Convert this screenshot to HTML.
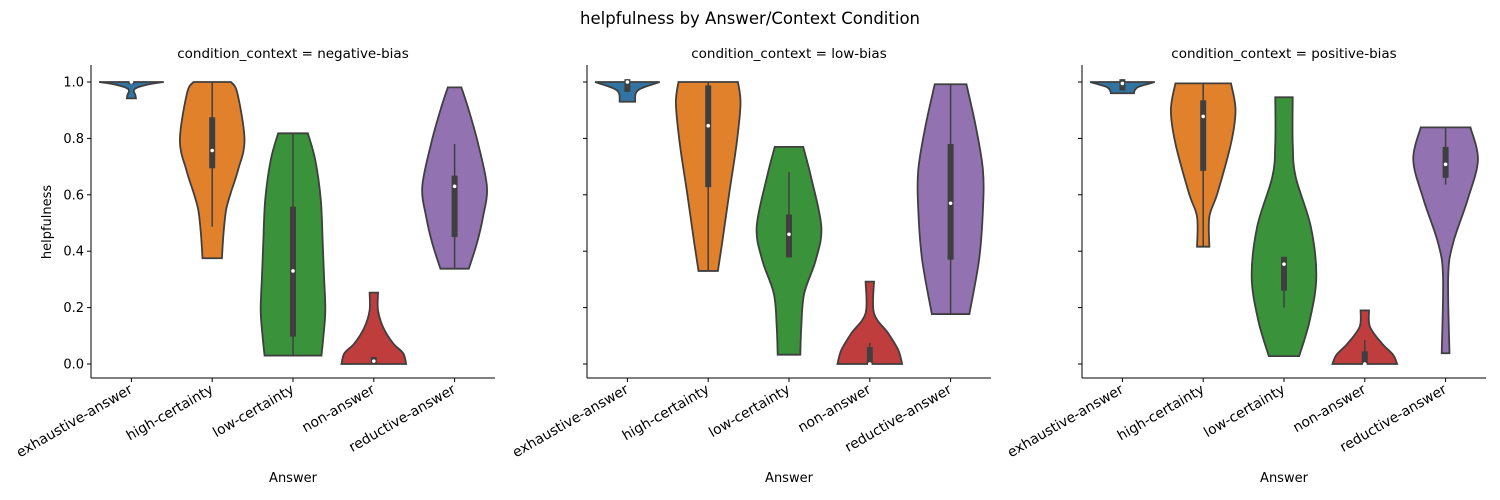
<!DOCTYPE html>
<html><head><meta charset="utf-8"><style>
body{margin:0;background:#fff;}
svg{display:block;font-family:"DejaVu Sans","Liberation Sans",sans-serif;}
</style></head><body>
<svg id="chart" width="1500" height="500" viewBox="0 0 1500 500">
<text x="750" y="24" text-anchor="middle" font-size="16.5">helpfulness by Answer/Context Condition</text>
</svg>
<script>
const categories = ["exhaustive-answer","high-certainty","low-certainty","non-answer","reductive-answer"];
const panels = ["negative-bias","low-bias","positive-bias"];
const yTicks = [0,0.2,0.4,0.6,0.8,1.0];
const colors = ["#3274a1","#e1812c","#3a923a","#c03d3e","#9372b2"];
// density profiles: [value, relative density]
const densNeg = [
 [[1.0,1],[0.995,0.7],[0.985,0.3],[0.975,0.1],[0.965,0.08],[0.955,0.12],[0.942,0.14]],
 [[1.0,0.58],[0.96,0.78],[0.794,1],[0.688,0.8],[0.605,0.57],[0.546,0.43],[0.463,0.35],[0.375,0.3]],
 [[0.818,0.46],[0.723,0.69],[0.582,0.86],[0.428,0.92],[0.31,0.96],[0.19,1],[0.097,0.94],[0.03,0.88]],
 [[0.253,0.13],[0.19,0.13],[0.13,0.29],[0.073,0.6],[0.038,0.91],[0,1]],
 [[0.981,0.21],[0.9,0.44],[0.78,0.73],[0.629,1],[0.522,0.88],[0.428,0.69],[0.338,0.44]]
];
const densLow = [
 [[1.0,1],[0.978,0.44],[0.96,0.26],[0.93,0.24]],
 [[1.0,0.92],[0.924,1],[0.782,0.88],[0.605,0.65],[0.428,0.43],[0.33,0.3]],
 [[0.77,0.44],[0.664,0.68],[0.487,1],[0.369,0.83],[0.25,0.47],[0.132,0.38],[0.033,0.35]],
 [[0.292,0.13],[0.18,0.13],[0.109,0.57],[0.05,0.88],[0,1]],
 [[0.992,0.49],[0.842,0.78],[0.688,1],[0.546,1],[0.369,0.88],[0.177,0.58]]
];
const densPos = [
 [[1.0,1],[0.983,0.5],[0.97,0.38],[0.96,0.36]],
 [[0.995,0.86],[0.9,1],[0.782,0.86],[0.605,0.44],[0.522,0.19],[0.416,0.19]],
 [[0.946,0.27],[0.782,0.27],[0.664,0.36],[0.487,0.83],[0.31,1],[0.156,0.8],[0.028,0.47]],
 [[0.19,0.13],[0.132,0.16],[0.073,0.53],[0.032,0.88],[0,1]],
 [[0.839,0.77],[0.723,1],[0.582,0.68],[0.428,0.23],[0.31,0.08],[0.038,0.12]]
];
// box stats: [whiskerLow, q1, median, q3, whiskerHigh]
const boxNeg = [[1.0,1.0,1.0,1.0,1.0],[0.487,0.694,0.757,0.875,1.0],[0.03,0.097,0.33,0.558,0.818],[0,0,0.01,0.025,0.025],[0.338,0.45,0.63,0.668,0.78]];
const boxLow = [[0.965,0.965,1.0,1.01,1.01],[0.33,0.627,0.845,0.988,1.0],[0.378,0.378,0.46,0.53,0.68],[0,0,0,0.06,0.075],[0.177,0.37,0.57,0.78,0.992]];
const boxPos = [[0.97,0.97,0.995,1.01,1.01],[0.416,0.685,0.878,0.935,0.995],[0.2,0.26,0.354,0.38,0.38],[0,0,0,0.045,0.085],[0.636,0.66,0.708,0.77,0.839]];
const allDens=[densNeg,densLow,densPos], allBox=[boxNeg,boxLow,boxPos];

const NS="http://www.w3.org/2000/svg";
const svg=document.getElementById('chart');
const axLeft=[91,587,1082], axW=404, y0=364, yScale=282, axBottom=378, axTop=65;
function mk(tag,attrs,parent){const e=document.createElementNS(NS,tag);for(const k in attrs)e.setAttribute(k,attrs[k]);(parent||svg).appendChild(e);return e;}
function yPos(v){return y0-v*yScale;}
function smoothPath(pts){
  let d="M"+pts[0][0]+","+pts[0][1];
  for(let i=0;i<pts.length-1;i++){
    const p0=pts[Math.max(0,i-1)],p1=pts[i],p2=pts[i+1],p3=pts[Math.min(pts.length-1,i+2)];
    const c1=[p1[0]+(p2[0]-p0[0])/6,p1[1]+(p2[1]-p0[1])/6];
    const c2=[p2[0]-(p3[0]-p1[0])/6,p2[1]-(p3[1]-p1[1])/6];
    d+=" C"+c1[0]+","+c1[1]+" "+c2[0]+","+c2[1]+" "+p2[0]+","+p2[1];
  }
  return d;
}
panels.forEach((pn,pi)=>{
  const L=axLeft[pi];
  const g=mk('g',{});
  
  
  const t=mk('text',{x:L+axW/2,y:58,'text-anchor':'middle','font-size':'13.5'},g);
  t.textContent='condition_context = '+pn;
  
  
  const bw=axW/categories.length, maxHW=bw*0.4;
  categories.forEach((c,ci)=>{
    const cx=L+bw*(ci+0.5);
    const dens=allDens[pi][ci];
    const right=dens.map(p=>[cx+p[1]*maxHW,yPos(p[0])]);
    const left=dens.map(p=>[cx-p[1]*maxHW,yPos(p[0])]).reverse();
    const d=smoothPath(right)+" L"+left[0][0]+","+left[0][1]+smoothPath(left).replace(/^M[^C]*/," ")+" Z";
    const v=mk('path',{d:d,fill:colors[ci],stroke:'#3f3f3f','stroke-width':1.8},g);
    
    
    const b=allBox[pi][ci];
    const wl=mk('line',{x1:cx,x2:cx,y1:yPos(b[0]),y2:yPos(b[4]),stroke:'#3f3f3f','stroke-width':1.5},g);
    
    
    const bx=mk('rect',{x:cx-3,y:yPos(b[3]),width:6,height:Math.max(2,yPos(b[1])-yPos(b[3])),fill:'#3f3f3f'},g);
    
    
    const md=mk('circle',{cx:cx,cy:yPos(b[2]),r:1.8,fill:'#fff'},g);
    
    
    mk('line',{x1:cx,x2:cx,y1:axBottom,y2:axBottom+4,stroke:'#000','stroke-width':1},g);
    const tx=cx+2, ty=axBottom+14;
    const tl=mk('text',{x:tx,y:ty,'text-anchor':'end','font-size':'13.9',transform:'rotate(-30 '+tx+' '+ty+')'},g);
    tl.textContent=c;
    
    
  });
  mk('line',{x1:L,x2:L,y1:axTop,y2:axBottom,stroke:'#000','stroke-width':1},g);
  mk('line',{x1:L,x2:L+axW,y1:axBottom,y2:axBottom,stroke:'#000','stroke-width':1},g);
  yTicks.forEach(v=>{
    mk('line',{x1:L-4,x2:L,y1:yPos(v),y2:yPos(v),stroke:'#000','stroke-width':1},g);
    if(pi===0){
      const yl=mk('text',{x:L-7,y:yPos(v)+4.5,'text-anchor':'end','font-size':'13'},g);
      yl.textContent=v.toFixed(1);
      
      
    }
  });
  const xl=mk('text',{x:L+axW/2,y:482,'text-anchor':'middle','font-size':'13'},g);
  xl.textContent='Answer';
  
  
});
const yt=mk('text',{x:51,y:222,'text-anchor':'middle','font-size':'13',transform:'rotate(-90 51 222)'});
yt.textContent='helpfulness';


</script>
</body></html>
